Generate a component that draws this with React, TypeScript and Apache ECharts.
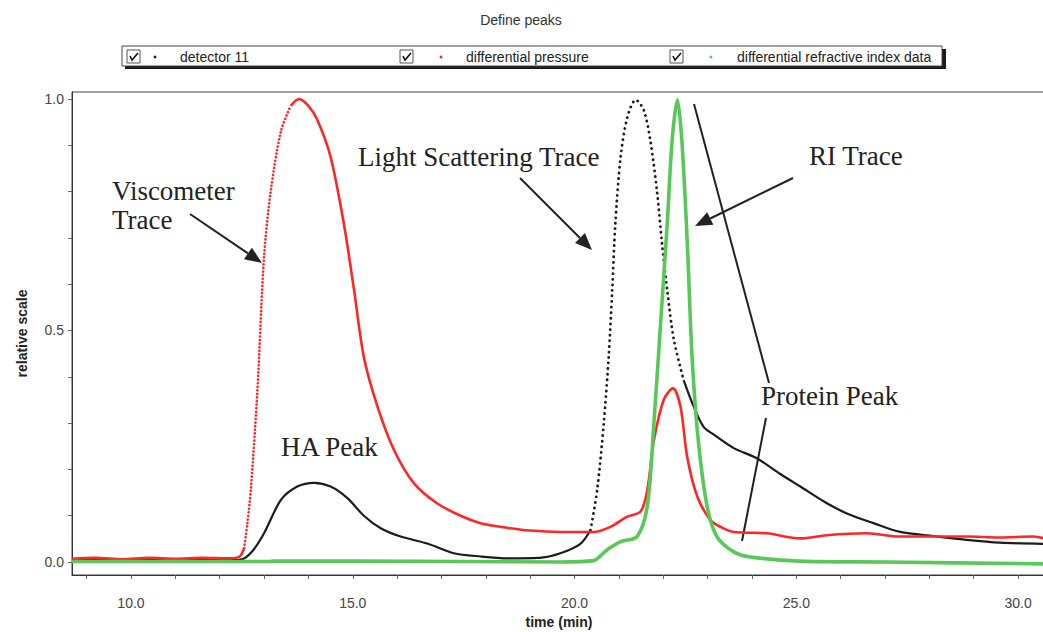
import { useEffect, useRef } from "react";
import * as echarts from "echarts";

// Chromatogram traces: [time (min), relative scale]
const detector11: number[][] = [
  [8.67, 0.004], [10.0, 0.004], [11.0, 0.005], [12.0, 0.004], [12.5, 0.006],
  [12.75, 0.025], [13.0, 0.062], [13.38, 0.134], [13.75, 0.163], [14.13, 0.171],
  [14.5, 0.163], [14.88, 0.138], [15.25, 0.1], [15.63, 0.073], [16.08, 0.055],
  [16.68, 0.04], [17.28, 0.019], [17.88, 0.012], [18.5, 0.008], [19.2, 0.009],
  [19.68, 0.019], [20.14, 0.04], [20.36, 0.069], [20.51, 0.155], [20.66, 0.3],
  [20.77, 0.443], [20.85, 0.587], [20.92, 0.73], [21.04, 0.875], [21.19, 0.96],
  [21.38, 0.998], [21.56, 0.976], [21.71, 0.91], [21.86, 0.8], [21.97, 0.69],
  [22.09, 0.587], [22.24, 0.48], [22.46, 0.393], [22.69, 0.335], [22.91, 0.292],
  [23.14, 0.275], [23.59, 0.246], [24.11, 0.224], [24.64, 0.19], [25.09, 0.163],
  [25.69, 0.127], [26.14, 0.105], [26.74, 0.084], [27.34, 0.065], [28.09, 0.056],
  [28.84, 0.048], [29.59, 0.042], [30.63, 0.039],
];

const differentialPressure: number[][] = [
  [8.67, 0.007], [9.2, 0.009], [9.8, 0.006], [10.4, 0.009], [11.0, 0.007],
  [11.6, 0.009], [12.2, 0.008], [12.45, 0.012], [12.55, 0.03], [12.62, 0.08],
  [12.7, 0.155], [12.85, 0.37], [13.0, 0.66], [13.15, 0.8], [13.38, 0.93],
  [13.6, 0.985], [13.79, 1.0], [14.0, 0.985], [14.2, 0.955], [14.5, 0.875],
  [14.8, 0.73], [15.03, 0.587], [15.25, 0.443], [15.56, 0.335], [15.93, 0.242],
  [16.38, 0.17], [16.9, 0.127], [17.43, 0.1], [17.88, 0.084], [18.4, 0.075],
  [19.0, 0.068], [19.68, 0.065], [20.43, 0.065], [20.81, 0.076], [21.19, 0.098],
  [21.49, 0.109], [21.64, 0.155], [21.79, 0.263], [22.01, 0.35], [22.22, 0.375],
  [22.39, 0.335], [22.54, 0.227], [22.77, 0.141], [23.06, 0.091], [23.29, 0.076],
  [23.59, 0.065], [24.34, 0.062], [25.09, 0.051], [25.69, 0.058], [26.59, 0.062],
  [27.34, 0.055], [28.09, 0.055], [28.84, 0.055], [29.59, 0.053], [30.34, 0.055],
  [30.63, 0.05],
];

const refractiveIndex: number[][] = [
  [8.67, 0.001], [13.15, 0.001], [13.2, 0.002], [15.2, 0.002], [19.68, 0.0],
  [20.43, 0.003], [20.73, 0.026], [21.04, 0.044], [21.41, 0.055], [21.64, 0.12],
  [21.79, 0.3], [21.94, 0.515], [22.09, 0.73], [22.2, 0.91], [22.32, 0.998],
  [22.42, 0.91], [22.54, 0.695], [22.65, 0.443], [22.79, 0.263], [22.99, 0.12],
  [23.21, 0.055], [23.59, 0.022], [23.96, 0.011], [25.09, 0.002], [27.0, 0.0],
  [30.63, -0.004],
];

// Axis ticks and labels
const timeLabels = [10, 15, 20, 25, 30];
const timeTicks = [9, 10, 11, 12, 13, 14, 15, 16, 17, 18, 19, 20, 21, 22, 23, 24, 25, 26, 27, 28, 29, 30];
const scaleLabels = [0, 0.5, 1];
const scaleTicks = [0, 0.1, 0.2, 0.3, 0.4, 0.5, 0.6, 0.7, 0.8, 0.9, 1.0];

// Legend entries
const legendNames = ["detector 11", "differential pressure", "differential refractive index data"];
const traceColors = ["#1c1c1c", "#ff2626", "#58c858"];

const SERIF = "'Liberation Serif', 'Times New Roman', serif";
const SANS = "'Liberation Sans', Arial, sans-serif";

function between(data: number[][], from: number, to: number) {
  return data.filter((p) => p[0] >= from && p[0] <= to);
}

function arrow(x1: number, y1: number, x2: number, y2: number) {
  const len = 17;
  const half = 7;
  const dx = x2 - x1;
  const dy = y2 - y1;
  const d = Math.sqrt(dx * dx + dy * dy);
  const ux = dx / d;
  const uy = dy / d;
  const bx = x2 - ux * len;
  const by = y2 - uy * len;
  return [
    {
      type: "line",
      shape: { x1, y1, x2: bx, y2: by },
      style: { stroke: "#222", lineWidth: 2 },
    },
    {
      type: "polygon",
      shape: {
        points: [
          [x2, y2],
          [bx - uy * half, by + ux * half],
          [bx + uy * half, by - ux * half],
        ],
      },
      style: { fill: "#222" },
    },
  ];
}

function legendItem(boxX: number, dotX: number, textX: number, color: string, label: string) {
  const y = 50;
  return [
    {
      type: "rect",
      shape: { x: boxX, y, width: 13, height: 13 },
      style: { fill: "#fff", stroke: "#555", lineWidth: 1 },
    },
    {
      type: "polyline",
      shape: { points: [[boxX + 3, y + 6], [boxX + 5, y + 10], [boxX + 11, y + 3]] },
      style: { stroke: "#111", lineWidth: 1.6, fill: null },
    },
    {
      type: "circle",
      shape: { cx: dotX, cy: y + 7, r: 1.4 },
      style: { fill: color },
    },
    {
      type: "text",
      x: textX,
      y: y + 7,
      style: { text: label, font: `14px ${SANS}`, fill: "#222", verticalAlign: "middle" },
    },
  ];
}

function annotation(x: number, y: number, text: string) {
  return {
    type: "text",
    x,
    y,
    style: { text, font: `27px ${SERIF}`, fill: "#222", lineHeight: 29, verticalAlign: "top" },
  };
}

export default function App() {
  const ref = useRef<HTMLDivElement>(null);

  useEffect(() => {
    if (!ref.current) return;
    const chart = echarts.init(ref.current, undefined, { renderer: "svg" });

    const base = {
      type: "line",
      showSymbol: false,
      symbol: "none",
      smooth: 0.3,
      silent: true,
    };
    const dotted = (color: string, width: number, gap: number) => ({
      color,
      width,
      type: [0.1, gap],
      cap: "round",
    });

    const series: any[] = [
      { ...base, name: legendNames[0], data: between(detector11, 0, 20.36), lineStyle: { color: traceColors[0], width: 2.2 } },
      { ...base, name: legendNames[0], data: between(detector11, 20.36, 22.46), lineStyle: dotted(traceColors[0], 2.8, 5.5) },
      { ...base, name: legendNames[0], data: between(detector11, 22.46, 99), lineStyle: { color: traceColors[0], width: 2.2 } },
      { ...base, name: legendNames[1], data: between(differentialPressure, 0, 12.55), lineStyle: { color: traceColors[1], width: 2.6 } },
      { ...base, name: legendNames[1], data: between(differentialPressure, 12.55, 13.6), lineStyle: dotted(traceColors[1], 2.6, 3.5) },
      { ...base, name: legendNames[1], data: between(differentialPressure, 13.6, 99), lineStyle: { color: traceColors[1], width: 2.6 } },
      { ...base, name: legendNames[2], data: refractiveIndex, lineStyle: { color: traceColors[2], width: 3.6 } },
    ];

    const graphics: any[] = [
      {
        type: "text",
        x: 521,
        y: 20,
        style: { text: "Define peaks", font: `14px ${SANS}`, fill: "#333", align: "center", verticalAlign: "middle" },
      },
      // legend frame with drop shadow
      { type: "rect", shape: { x: 125, y: 49, width: 821, height: 20 }, style: { fill: "#1a1a1a" } },
      { type: "rect", shape: { x: 122, y: 46, width: 820, height: 20 }, style: { fill: "#fff", stroke: "#444", lineWidth: 1 } },
      ...legendItem(127, 155, 180, traceColors[0], legendNames[0]),
      ...legendItem(400, 441, 466, traceColors[1], legendNames[1]),
      ...legendItem(670, 711, 737, traceColors[2], legendNames[2]),
      // annotations
      annotation(112, 176, "Viscometer\nTrace"),
      ...arrow(190, 214, 262, 263),
      annotation(358, 142, "Light Scattering Trace"),
      ...arrow(520, 178, 592, 250),
      annotation(809, 141, "RI Trace"),
      ...arrow(793, 178, 695, 226),
      annotation(761, 381, "Protein Peak"),
      { type: "line", shape: { x1: 694, y1: 104, x2: 769, y2: 383 }, style: { stroke: "#222", lineWidth: 2 } },
      { type: "line", shape: { x1: 766, y1: 418, x2: 742, y2: 541 }, style: { stroke: "#222", lineWidth: 2 } },
      annotation(281, 432, "HA Peak"),
    ];

    chart.setOption({
      animation: false,
      backgroundColor: "#ffffff",
      grid: {
        left: 72,
        top: 92,
        width: 974,
        height: 483,
        show: true,
        borderColor: "#444",
        borderWidth: 1,
        containLabel: false,
        outerBoundsMode: "none",
      },
      xAxis: {
        type: "value",
        min: 8.67,
        max: 30.63,
        name: "time (min)",
        nameLocation: "middle",
        nameGap: 37,
        nameTextStyle: { fontFamily: SANS, fontWeight: "bold", fontSize: 14, color: "#222" },
        axisLine: { show: true, onZero: false, lineStyle: { color: "#333", width: 1 } },
        axisTick: { show: true, customValues: timeTicks, length: 4, lineStyle: { color: "#666" } },
        axisLabel: {
          customValues: timeLabels,
          formatter: (v: number) => v.toFixed(1),
          fontFamily: SANS,
          fontSize: 14,
          color: "#444",
          margin: 21,
        },
        splitLine: { show: false },
      },
      yAxis: {
        type: "value",
        min: -0.028,
        max: 1.015,
        name: "relative scale",
        nameLocation: "middle",
        nameRotate: 90,
        nameGap: 43,
        nameTextStyle: { fontFamily: SANS, fontWeight: "bold", fontSize: 14, color: "#222" },
        axisLine: { show: true, onZero: false, lineStyle: { color: "#333", width: 1 } },
        axisTick: { show: true, customValues: scaleTicks, length: 4, lineStyle: { color: "#666" } },
        axisLabel: {
          customValues: scaleLabels,
          formatter: (v: number) => v.toFixed(1),
          fontFamily: SANS,
          fontSize: 14,
          color: "#444",
          margin: 8,
        },
        splitLine: { show: false },
      },
      series,
      graphic: graphics,
    });

    return () => chart.dispose();
  }, []);

  return (
    <div
      ref={ref}
      style={{ position: "fixed", left: 0, top: 0, width: 1043, height: 632, background: "#fff" }}
    />
  );
}
